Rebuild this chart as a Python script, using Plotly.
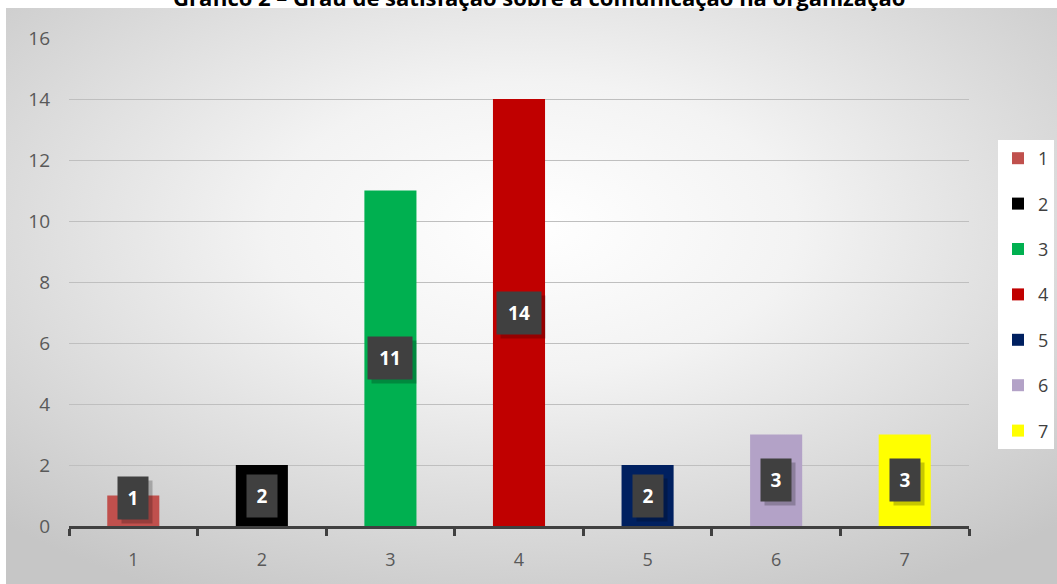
import base64
import plotly.graph_objects as go

categories = ["1", "2", "3", "4", "5", "6", "7"]
values = [1, 2, 11, 14, 2, 3, 3]
colors = ["#c0504d", "#000000", "#00b050", "#c00000", "#002060", "#b3a2c7", "#ffff00"]
y_ticks = [0, 2, 4, 6, 8, 10, 12, 14, 16]
title_text = "Gráfico 2 – Grau de satisfação sobre a comunicação na organização"

W, H = 1057, 584
L, R, T, B = 69, 88, 38, 58
pw, ph = W - L - R, H - T - B

def px_x(px):
    return (px - L) / pw

def px_y(py):
    return (H - B - py) / ph

svg = ('<svg xmlns="http://www.w3.org/2000/svg" width="1051" height="576" preserveAspectRatio="none">'
       '<defs><radialGradient id="g" cx="50%" cy="38%" r="72%">'
       '<stop offset="0" stop-color="#ffffff"/><stop offset="0.35" stop-color="#f3f3f3"/>'
       '<stop offset="1" stop-color="#c6c6c6"/></radialGradient></defs>'
       '<rect width="1051" height="576" fill="url(#g)"/></svg>')
src = "data:image/svg+xml;base64," + base64.b64encode(svg.encode()).decode()

fig = go.Figure()
for c, v, col in zip(categories, values, colors):
    fig.add_trace(go.Bar(x=[c], y=[v], name=c, marker=dict(color=col, line=dict(width=0)),
                         width=0.405, legendgroup=c, hoverinfo="skip"))

annotations = []
for i, v in enumerate(values):
    w = 36 if v >= 10 else 22
    ly = max(v / 2, 0.92)
    # shadow
    annotations.append(dict(x=i, y=ly, xref="x", yref="y", text=" ", showarrow=False,
                            bgcolor="rgba(0,0,0,0.22)", width=w, height=34, borderpad=4,
                            xshift=4, yshift=-4, font=dict(size=18)))
    annotations.append(dict(x=i, y=ly, xref="x", yref="y", text=f"<b>{v}</b>", showarrow=False,
                            bgcolor="#404040", width=w, height=34, borderpad=4,
                            font=dict(size=19, color="white", family="Open Sans")))

annotations.append(dict(x=px_x(539), y=px_y(-3), xref="paper", yref="paper", text=f"<b>{title_text}</b>",
                        showarrow=False, xanchor="center", yanchor="middle",
                        font=dict(size=22, color="#000000", family="Open Sans")))

fig.update_layout(
    width=W, height=H,
    margin=dict(l=L, r=R, t=T, b=B, autoexpand=False),
    paper_bgcolor="white", plot_bgcolor="rgba(0,0,0,0)",
    barmode="overlay",
    font=dict(family="Open Sans", size=16, color="#595959"),
    images=[dict(source=src, xref="paper", yref="paper", x=px_x(6), y=px_y(8),
                 sizex=px_x(W) - px_x(6), sizey=px_y(8) - px_y(H), sizing="stretch",
                 xanchor="left", yanchor="top", layer="below")],
    xaxis=dict(type="category", range=[-0.5, 6.5], showgrid=False, showline=True,
               linecolor="#404040", linewidth=3,
               ticks="outside", tickson="boundaries", ticklen=7, tickwidth=3, tickcolor="#404040",
               tickfont=dict(size=18, color="#595959"), fixedrange=True, ticklabelstandoff=15),
    yaxis=dict(range=[0, 16], tickvals=y_ticks, showgrid=True, gridcolor="#bfbfbf", gridwidth=1,
               zeroline=False, showline=False, tickfont=dict(size=19, color="#595959"), ticks="",
               fixedrange=True, ticklabelstandoff=18),
    legend=dict(x=px_x(998), y=px_y(140), xanchor="left", yanchor="top", bgcolor="white",
                font=dict(size=18, color="#404040"), tracegroupgap=19, itemwidth=30,
                borderwidth=0),
    annotations=annotations,
    showlegend=True,
)

fig.write_html("out.html")
